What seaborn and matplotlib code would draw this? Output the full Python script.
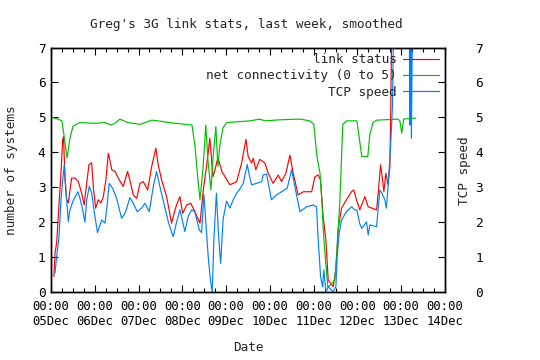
import pandas as pd
import matplotlib
matplotlib.use('Agg')
import matplotlib.pyplot as plt
import matplotlib.dates as mdates
import seaborn as sns

# Start of the week shown on the x axis
start = pd.Timestamp('2008-12-05 00:00')

# Hours since 05Dec 00:00 and values
link_hours = [1.6, 2.2, 3.1, 4.0, 4.9, 5.5, 6.4, 6.9, 7.7, 8.6, 9.5, 11.3, 13.2, 15.0, 16.8,
              18.2, 19.6, 20.8, 22.3, 23.2, 24.5, 25.9, 27.4, 28.7, 30.1, 31.4, 32.3, 33.3,
              35.1, 36.9, 39.6, 42.0, 43.7, 45.1, 47.0, 48.8, 50.6, 53.0, 55.2, 57.5, 58.8,
              60.7, 63.4, 66.1, 68.0, 69.2, 70.7, 72.2, 74.4, 76.6, 78.9, 81.7, 83.5, 85.3,
              87.1, 88.8, 89.9, 91.5, 93.7, 98.1, 101.8, 104.5, 106.9, 108.1, 110.0, 110.9,
              112.3, 114.5, 117.3, 119.1, 121.8, 124.6, 126.4, 128.8, 131.0, 132.8, 135.5,
              138.3, 142.9, 144.7, 146.5, 147.8, 149.2, 150.7, 152.0, 154.7, 156.2, 157.4,
              159.3, 162.0, 164.8, 166.0, 167.5, 169.3, 172.1, 173.9, 178.5, 179.4, 180.7,
              181.8, 182.5, 183.6, 184.8, 185.8, 186.3, 186.9, 191.3, 200.0]
link_values = [0.44, 1.11, 1.4, 2.16, 2.92, 3.4, 4.36, 4.45, 3.2, 2.64, 2.55, 3.26, 3.26, 3.16, 2.83,
               2.49, 3.12, 3.64, 3.7, 3.02, 2.4, 2.64, 2.55, 2.73, 3.2, 3.97, 3.78, 3.5,
               3.45, 3.26, 3.02, 3.45, 3.11, 2.78, 2.68, 3.11, 3.16, 2.92, 3.59, 4.12, 3.64,
               3.2, 2.73, 1.97, 2.35, 2.54, 2.73, 2.25, 2.49, 2.54, 2.3, 1.97, 2.92, 3.6,
               4.4, 3.3, 3.5, 3.85, 3.45, 3.07, 3.16, 3.69, 4.37, 3.88, 3.69, 3.83,
               3.5, 3.8, 3.69, 3.4, 3.11, 3.35, 3.16, 3.4, 3.92, 3.4, 2.78,
               2.87, 2.87, 3.3, 3.35, 3.2, 2.16, 1.49, 0.34, 0.15, 0.63, 1.78,
               2.4, 2.64, 2.87, 2.92, 2.64, 2.35, 2.73, 2.44, 2.35, 2.83, 3.64,
               3.2, 2.87, 3.4, 3.07, 3.59, 5.3, 8.0, 10.0, 10.0]

net_hours = [0.5, 3.8, 6.0, 7.1, 8.8, 10.4, 12.1, 15.9, 24.1, 29.6, 32.9, 35.6, 37.8, 42.2,
             48.8, 51.5, 55.3, 58.6, 65.2, 73.4, 77.3, 78.9, 80.6, 81.7, 83.3, 84.9, 86.0,
             87.7, 88.8, 90.4, 91.5, 92.6, 94.3, 96.4, 103.6, 109.1, 114.5, 117.3, 125.5,
             136.5, 141.9, 144.1, 145.8, 147.5, 148.5, 149.6, 150.7, 151.8, 153.4, 155.6,
             156.7, 158.4, 160.0, 162.2, 167.7, 169.3, 170.4, 173.7, 174.8, 176.5, 178.6,
             190.2, 191.3, 192.3, 193.4, 196.7, 200.0]
net_values = [5.0, 4.95, 4.9, 4.5, 3.84, 4.4, 4.75, 4.85, 4.83, 4.85, 4.78, 4.85, 4.95, 4.85,
              4.8, 4.85, 4.92, 4.9, 4.85, 4.8, 4.78, 4.2, 3.2, 2.64, 3.5, 4.78, 3.8,
              2.92, 3.8, 4.74, 3.6, 4.2, 4.7, 4.85, 4.88, 4.9, 4.95, 4.9, 4.93,
              4.95, 4.9, 4.8, 3.88, 3.4, 2.6, 1.5, 0.8, 0.15, 0.2, 0.35,
              1.1, 2.64, 4.8, 4.9, 4.9, 4.3, 3.88, 3.88, 4.5, 4.85, 4.92,
              4.95, 4.9, 4.55, 4.95, 4.97, 4.98]

tcp_hours = [2.2, 3.1, 4.4, 5.5, 6.4, 7.3, 8.2, 9.5, 10.4, 12.2, 14.8, 15.9, 17.4, 18.6,
             19.6, 21.0, 22.3, 23.7, 25.5, 27.8, 29.6, 30.7, 31.9, 33.8, 36.0, 38.7, 40.6,
             43.3, 45.1, 47.3, 49.7, 51.5, 53.9, 56.1, 57.9, 59.7, 61.9, 64.3, 67.0, 68.9,
             70.7, 72.2, 73.4, 75.2, 77.1, 78.9, 81.3, 82.6, 83.8, 84.9, 86.2, 87.4, 88.4,
             89.3, 90.7, 91.8, 93.0, 94.4, 96.3, 98.1, 99.9, 101.8, 103.6, 105.4, 107.6,
             108.7, 110.0, 112.7, 115.5, 116.3, 118.2, 119.5, 120.9, 123.7, 126.4, 129.5,
             131.9, 133.7, 136.5, 140.1, 143.7, 145.6, 146.5, 147.8, 148.9, 149.6, 150.7,
             152.0, 154.7, 156.2, 156.9, 158.0, 159.3, 162.0, 164.8, 166.6, 167.7, 169.3,
             170.4, 173.0, 173.9, 174.8, 178.5, 180.3, 181.5, 183.0, 183.9, 184.8, 186.1,
             187.2, 188.0, 196.3, 196.7, 197.1, 197.6, 198.5, 199.5]
tcp_values = [0.54, 1.01, 1.58, 2.64, 3.2, 3.64, 2.92, 2.01, 2.35, 2.62, 2.87, 2.68, 2.35, 2.0,
              2.64, 3.02, 2.85, 2.3, 1.7, 2.06, 1.97, 2.44, 3.11, 2.97, 2.68, 2.11, 2.25,
              2.7, 2.54, 2.3, 2.4, 2.54, 2.3, 3.02, 3.45, 3.02, 2.54, 2.01, 1.58, 2.01,
              2.35, 2.01, 1.73, 2.16, 2.35, 2.3, 1.78, 1.7, 2.8, 2.0, 1.01, 0.34, 0.0,
              1.49, 2.83, 1.69, 0.82, 2.1, 2.6, 2.4, 2.64, 2.83, 2.95, 3.11, 3.65,
              3.35, 3.07, 3.11, 3.16, 3.35, 3.38, 3.02, 2.64, 2.78, 2.87, 2.97,
              3.5, 3.02, 2.3, 2.44, 2.49, 2.44, 1.49, 0.44, 0.15, 0.63, 0.0,
              0.15, 0.0, 0.15, 1.01, 1.68, 2.06, 2.3, 2.44, 2.35, 2.35, 1.95,
              1.82, 2.01, 1.63, 1.92, 1.87, 2.92, 2.83, 2.64, 2.4, 3.02, 4.07,
              5.3, 8.0, 10.0, 4.78, 10.0, 4.4, 10.0, 10.0]


def to_frame(hours, values):
    return pd.DataFrame({'time': start + pd.to_timedelta(hours, unit='h'), 'value': values})


sns.set_theme(style='ticks')
# Setting every text to the same small mono font, like the gnuplot png
plt.rcParams['font.family'] = ['DejaVu Sans Mono']
for key in ['font.size', 'axes.labelsize', 'ytick.labelsize', 'legend.fontsize', 'axes.titlesize']:
    plt.rcParams[key] = 9.2
plt.rcParams['xtick.labelsize'] = 8.8

fig, ax = plt.subplots(figsize=(5.4, 3.6), dpi=100)
fig.subplots_adjust(left=0.0944, right=0.824, bottom=0.189, top=0.868)

# Plotting the three series
sns.lineplot(data=to_frame(link_hours, link_values), x='time', y='value', color='#ff0000',
             lw=0.85, label='link status', estimator=None, ax=ax)
sns.lineplot(data=to_frame(net_hours, net_values), x='time', y='value', color='#00c000',
             lw=0.85, label='net connectivity (0 to 5)', estimator=None, ax=ax)
sns.lineplot(data=to_frame(tcp_hours, tcp_values), x='time', y='value', color='#0080ff',
             lw=0.85, label='TCP speed', estimator=None, ax=ax)

# Axes limits and ticks, gnuplot style
ax.set_xlim(start, start + pd.Timedelta(days=9))
ax.set_ylim(0, 7)
ax.xaxis.set_major_locator(mdates.DayLocator())
ax.xaxis.set_minor_locator(mdates.HourLocator(byhour=[6, 12, 18]))
ax.xaxis.set_major_formatter(mdates.DateFormatter('%H:%M\n%d%b'))
ax.set_yticks(range(8))
ax.tick_params(axis='x', which='both', direction='in', top=True, colors='black', pad=6)
ax.tick_params(axis='x', which='major', length=5, width=0.8)
ax.tick_params(axis='x', which='minor', length=3, width=0.8)
ax.tick_params(axis='y', direction='in', length=5, width=0.8, right=False, pad=4, colors='black')
for spine in ax.spines.values():
    spine.set_color('black')
    spine.set_linewidth(1)

# Second y axis for the TCP speed
ax2 = ax.twinx()
ax2.set_ylim(0, 7)
ax2.set_yticks(range(8))
ax2.tick_params(axis='y', direction='in', length=5, width=0.8, pad=22, colors='black')
for spine in ax2.spines.values():
    spine.set_color('black')
    spine.set_linewidth(1)

# Labels and title
ax.set_xlabel('Date')
ax.xaxis.set_label_coords(0.5, -0.2)
ax.set_ylabel('number of systems')
ax.yaxis.set_label_coords(-0.084, 0.5)
fig.text(0.861, 0.527, 'TCP speed', rotation=90, ha='center', va='center')
fig.text(0.4565, 0.932, "Greg's 3G link stats, last week, smoothed", ha='center', va='center')

ax.legend(loc='upper right', frameon=False, markerfirst=False, handlelength=2.8,
          handletextpad=0.55, labelspacing=0.25, borderpad=0.3, borderaxespad=0.15)

plt.savefig('out.png', dpi=100)
